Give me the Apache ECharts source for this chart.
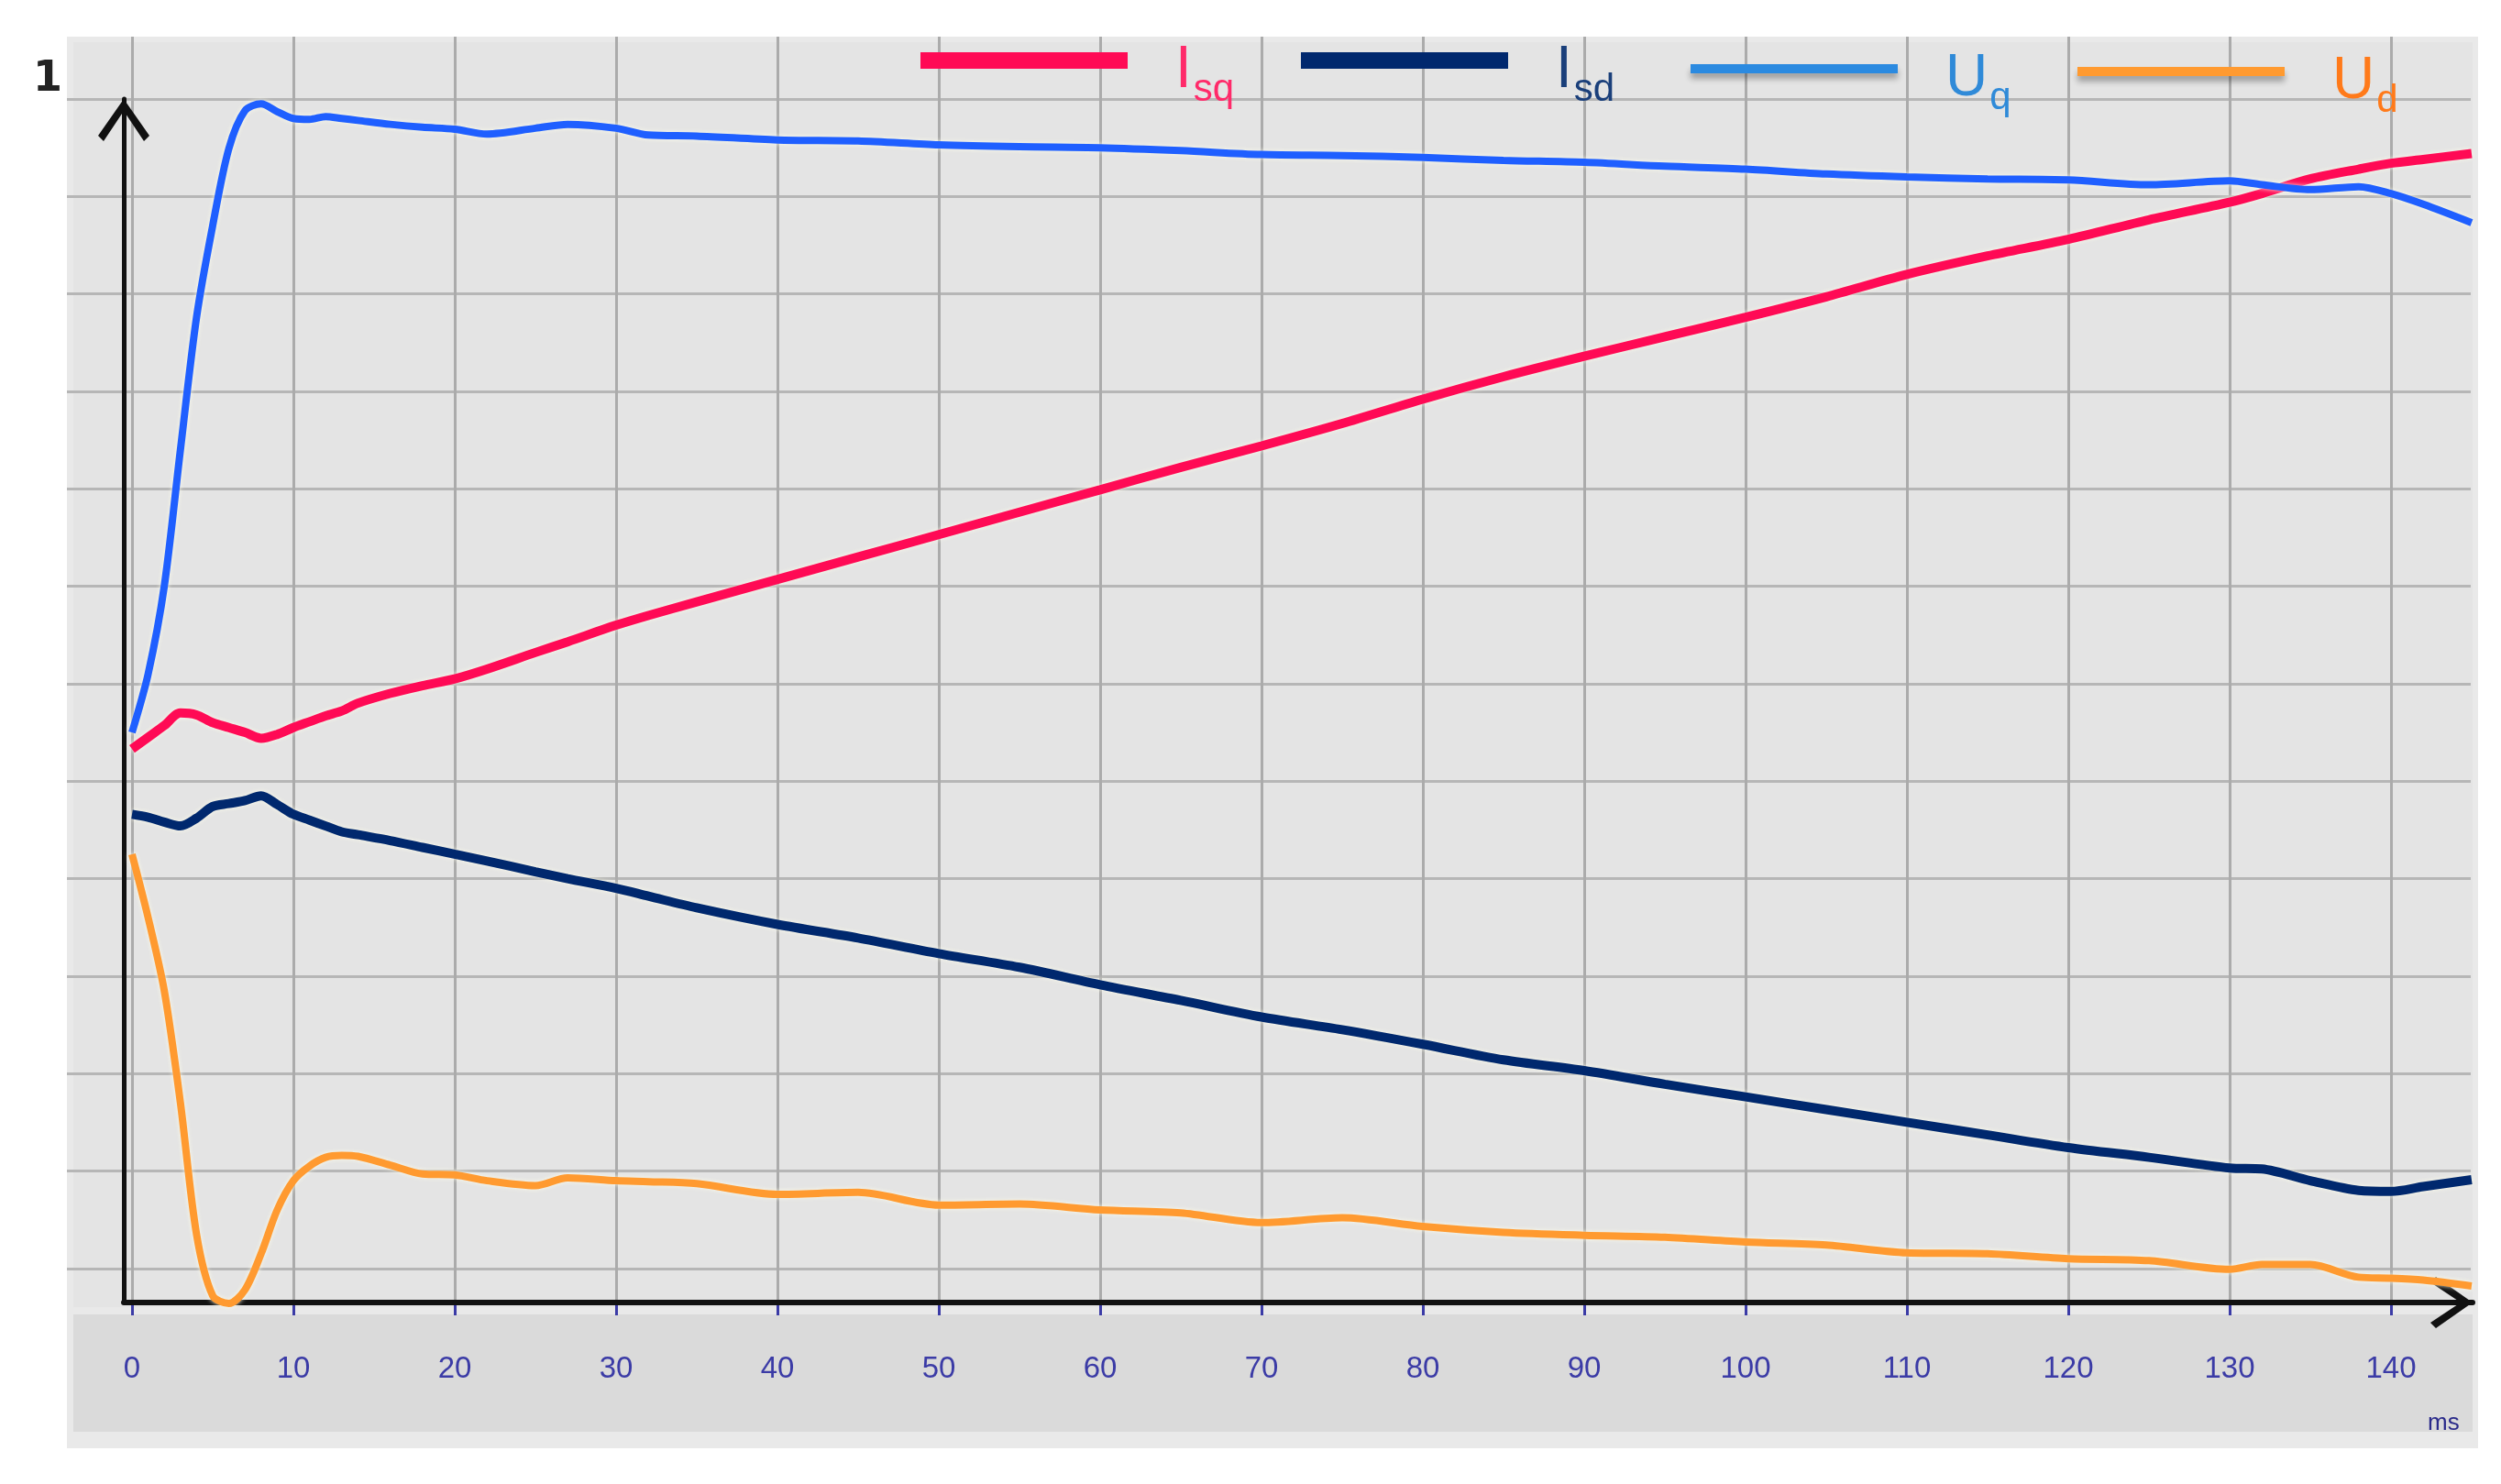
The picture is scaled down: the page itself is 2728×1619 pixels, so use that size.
<!DOCTYPE html>
<html>
<head>
<meta charset="utf-8">
<script src="https://cdn.jsdelivr.net/npm/echarts@6.0.0/dist/echarts.min.js"></script>
<style>
html, body { margin: 0; padding: 0; background: #fff; }
#chart { width: 2728px; height: 1619px; }
</style>
</head>
<body>
<div id="chart"></div>
<script>
// time in ms, values in grid divisions (lowest grid line = 0, top = 12)
const timeMs = [0, 1, 2, 3, 4, 5, 6, 7, 8, 9, 10, 11, 12, 13, 14,
  16, 18, 20, 22, 25, 27, 30, 32, 35,
  40, 45, 50, 55, 60, 65, 70, 75, 80, 85, 90, 95, 100, 105, 110, 115, 120, 125, 130,
  132, 135, 138, 140, 142, 145]

const isq = [5.33, 5.45, 5.57, 5.7, 5.68, 5.6, 5.55, 5.5, 5.44, 5.48, 5.55, 5.61, 5.67, 5.72, 5.8,
  5.9, 5.98, 6.05, 6.15, 6.32, 6.43, 6.6, 6.7, 6.84,
  7.07, 7.3, 7.53, 7.76, 7.99, 8.22, 8.44, 8.67, 8.92, 9.15, 9.36, 9.56, 9.76, 9.97, 10.2, 10.39, 10.56, 10.76, 10.94,
  11.03, 11.18, 11.28, 11.34, 11.38, 11.44]

const isd = [4.66, 4.63, 4.58, 4.54, 4.62, 4.74, 4.77, 4.8, 4.85, 4.76, 4.66, 4.6, 4.54, 4.48, 4.45,
  4.39, 4.32, 4.25, 4.18, 4.07, 4.0, 3.9, 3.82, 3.7,
  3.53, 3.39, 3.23, 3.09, 2.91, 2.75, 2.58, 2.45, 2.3, 2.14, 2.03, 1.89, 1.76, 1.63, 1.5, 1.37, 1.24, 1.14, 1.03,
  1.02, 0.9, 0.8, 0.79, 0.84, 0.91]

const uq = [5.5, 6.1, 7.0, 8.4, 9.76, 10.7, 11.49, 11.88, 11.95, 11.87, 11.8, 11.79, 11.82, 11.8, 11.78,
  11.74, 11.71, 11.69, 11.64, 11.7, 11.74, 11.7, 11.63, 11.62,
  11.58, 11.57, 11.53, 11.51, 11.5, 11.47, 11.43, 11.42, 11.4, 11.37, 11.35, 11.31, 11.28, 11.23, 11.2, 11.18, 11.17, 11.12, 11.16,
  11.12, 11.07, 11.1, 11.03, 10.92, 10.73]

const ud = [4.25, 3.6, 2.85, 1.7, 0.35, -0.28, -0.36, -0.22, 0.15, 0.6, 0.9, 1.05, 1.14, 1.16, 1.15,
  1.06, 0.97, 0.96, 0.9, 0.85, 0.93, 0.9, 0.89, 0.87,
  0.76, 0.78, 0.65, 0.66, 0.6, 0.57, 0.47, 0.52, 0.43, 0.37, 0.34, 0.32, 0.27, 0.24, 0.16, 0.15, 0.1, 0.08, -0.01,
  0.04, 0.04, -0.09, -0.1, -0.12, -0.18]

const xTicks = [0, 140, 10] // min, max, step of the time labels

const chart = echarts.init(document.getElementById('chart'))

const narrow = 'Liberation Sans Narrow, Liberation Sans, sans-serif'
// open arrow head pointing up, rotated by echarts along each axis
const arrowHead = 'path://M28,0L56,40L50,46L28,13L6,46L0,40Z'

function pairs (values) {
  return timeMs.map((t, i) => [t, values[i]])
}

function lineSeries (name, values, color, width) {
  return {
    name: name,
    type: 'line',
    xAxisIndex: 0,
    yAxisIndex: 0,
    data: pairs(values),
    showSymbol: false,
    smooth: 0.3,
    clip: false,
    z: 5,
    lineStyle: {
      color: color,
      width: width,
      shadowColor: 'rgba(255,255,235,0.9)',
      shadowBlur: 5,
    },
    itemStyle: { color: color },
  }
}

function legendItem (name, left, top, h, iconColor, textColor, main, sub, shadow) {
  return {
    show: true,
    left: left,
    top: top,
    padding: 0,
    selectedMode: false,
    icon: 'rect',
    itemWidth: 226,
    itemHeight: h,
    data: [{ name: name, itemStyle: { color: iconColor } }],
    itemStyle: shadow ? {
      shadowColor: 'rgba(0,0,0,0.3)',
      shadowBlur: 6,
      shadowOffsetY: 6,
    } : {},
    formatter: () => '{m|' + main + '}{s|' + sub + '}',
    textStyle: {
      rich: {
        m: {
          fontFamily: narrow,
          fontSize: 64,
          color: textColor,
          padding: [32, 0, 10, 47],
          verticalAlign: 'bottom',
        },
        s: {
          fontFamily: narrow,
          fontSize: 42,
          color: textColor,
          padding: [0, 0, 0, 2],
          verticalAlign: 'bottom',
        },
      },
    },
  }
}

const option = {
  backgroundColor: '#ffffff',
  animation: false,
  graphic: {
    elements: [
      { type: 'rect', z: -10, silent: true, shape: { x: 73, y: 40, width: 2630, height: 1540 }, style: { fill: '#e9e9e9' } },
      { type: 'rect', z: -9, silent: true, shape: { x: 80, y: 46, width: 2617, height: 1380 }, style: { fill: '#e4e4e4' } },
      { type: 'rect', z: -9, silent: true, shape: { x: 80, y: 1434, width: 2617, height: 128 }, style: { fill: '#dadada' } },
      { type: 'text', z: 100, left: 36, top: 64, style: { text: '1', fontFamily: 'DejaVu Sans', fontWeight: 'bold', fontSize: 46, fill: '#222' } },
      { type: 'text', z: 100, left: 2648, top: 1540, style: { text: 'ms', fontFamily: narrow, fontSize: 26, fill: '#2a2a8a' } },
    ],
  },
  legend: [
    legendItem('Isq', 1004, 45, 18, '#ff0a55', '#ff2a6a', 'I', 'sq', false),
    legendItem('Isd', 1419, 45, 18, '#00286e', '#1a3f7a', 'I', 'sd', false),
    legendItem('Uq', 1844, 54, 10, '#2b8ae0', '#2f8ad8', 'U', 'q', true),
    legendItem('Ud', 2266, 57, 10, '#ff9a30', '#ff7a1a', 'U', 'd', true),
  ],
  grid: [
    // data grid with the two arrow axes
    { left: 135, top: 108, width: 2562, height: 1313, outerBoundsMode: 'none' },
    // horizontal grid lines
    { left: 73, top: 108, width: 2622, height: 1276, outerBoundsMode: 'none' },
    // vertical grid lines and time labels
    { left: 144, top: 40, width: 2464, height: 1381, outerBoundsMode: 'none' },
  ],
  xAxis: [
    {
      gridIndex: 0,
      type: 'value',
      min: -0.51,
      max: 145.06,
      axisLine: {
        show: true,
        onZero: false,
        symbol: ['none', arrowHead],
        symbolSize: [56, 46],
        symbolOffset: [0, -23],
        lineStyle: { color: '#111', width: 6 },
      },
      axisTick: { show: false },
      axisLabel: { show: false },
      splitLine: { show: false },
      z: 4,
    },
    {
      gridIndex: 1,
      type: 'value',
      min: 0,
      max: 1,
      show: false,
      splitLine: { show: false },
    },
    {
      gridIndex: 2,
      type: 'value',
      min: xTicks[0],
      max: xTicks[1],
      interval: xTicks[2],
      offset: 26,
      axisLine: { show: false },
      axisTick: { show: true, length: 14, lineStyle: { color: '#3b3ba6', width: 3 } },
      axisLabel: { fontFamily: narrow, fontSize: 33, color: '#3b3ba6', margin: 30 },
      splitLine: { show: true, lineStyle: { color: '#ababab', width: 3 } },
    },
  ],
  yAxis: [
    {
      gridIndex: 0,
      type: 'value',
      min: -0.35,
      max: 12,
      axisLine: {
        show: true,
        onZero: false,
        symbol: ['none', arrowHead],
        symbolSize: [56, 46],
        symbolOffset: [0, -23],
        lineStyle: { color: '#111', width: 5 },
      },
      axisTick: { show: false },
      axisLabel: { show: false },
      splitLine: { show: false },
      z: 4,
    },
    {
      gridIndex: 1,
      type: 'value',
      min: 0,
      max: 12,
      interval: 1,
      axisLine: { show: false },
      axisTick: { show: false },
      axisLabel: { show: false },
      splitLine: { show: true, lineStyle: { color: '#b6b6b6', width: 3 } },
    },
    {
      gridIndex: 2,
      type: 'value',
      min: 0,
      max: 1,
      show: false,
      splitLine: { show: false },
    },
  ],
  series: [
    lineSeries('Isq', isq, '#ff0a55', 10),
    lineSeries('Isd', isd, '#00286e', 10),
    lineSeries('Uq', uq, '#1f5fff', 8),
    lineSeries('Ud', ud, '#ff9a30', 8),
  ],
}

chart.setOption(option)
</script>
</body>
</html>
